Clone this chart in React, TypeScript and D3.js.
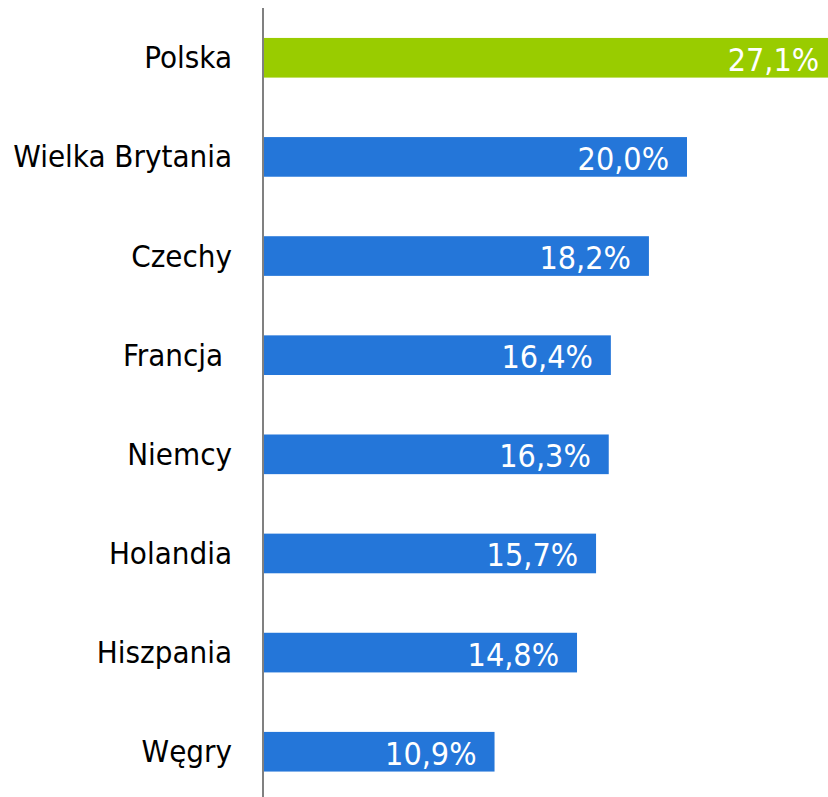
import React from "react";
import * as d3 from "d3";

const categories = ["Polska", "Wielka Brytania", "Czechy", "Francja ", "Niemcy", "Holandia", "Hiszpania", "Węgry"];
const values = [27.1, 20.0, 18.2, 16.4, 16.3, 15.7, 14.8, 10.9];
const highlight = ["Polska"];

const W = 828;
const H = 797;
const FONT = "'DejaVu Sans Condensed', 'DejaVu Sans', sans-serif";

export default function App() {
  const x = d3.scaleLinear().domain([0, 30]).range([264, 264 + 30 * 21.15]);
  const y = d3
    .scaleBand<string>()
    .domain(categories)
    .range([8, 801.5])
    .paddingInner(0.6)
    .paddingOuter(0.302);
  const fmt = (v: number) => v.toFixed(1).replace(".", ",") + "%";
  return (
    <svg
      width={W}
      height={H}
      style={{ position: "absolute", left: 0, top: 0, background: "#fff" }}
      fontFamily={FONT}
    >
      {categories.map((c, i) => {
        const yc = (y(c) as number) + y.bandwidth() / 2;
        return (
          <g key={c}>
            <rect
              x={x(0)}
              y={y(c)}
              width={x(values[i]) - x(0)}
              height={y.bandwidth()}
              fill={highlight.includes(c) ? "#99CC00" : "#2476D9"}
            />
            <text
              x={232}
              y={yc + 10.5}
              textAnchor="end"
              fontSize={31}
              fill="#000"
              style={{ whiteSpace: "pre" }}
            >
              {c}
            </text>
            <text x={x(values[i]) - 18} y={yc + 13} textAnchor="end" fontSize={32} fill="#fff">
              {fmt(values[i])}
            </text>
          </g>
        );
      })}
      <line x1={263} x2={263} y1={8} y2={H} stroke="#808080" strokeWidth={2} />
    </svg>
  );
}
